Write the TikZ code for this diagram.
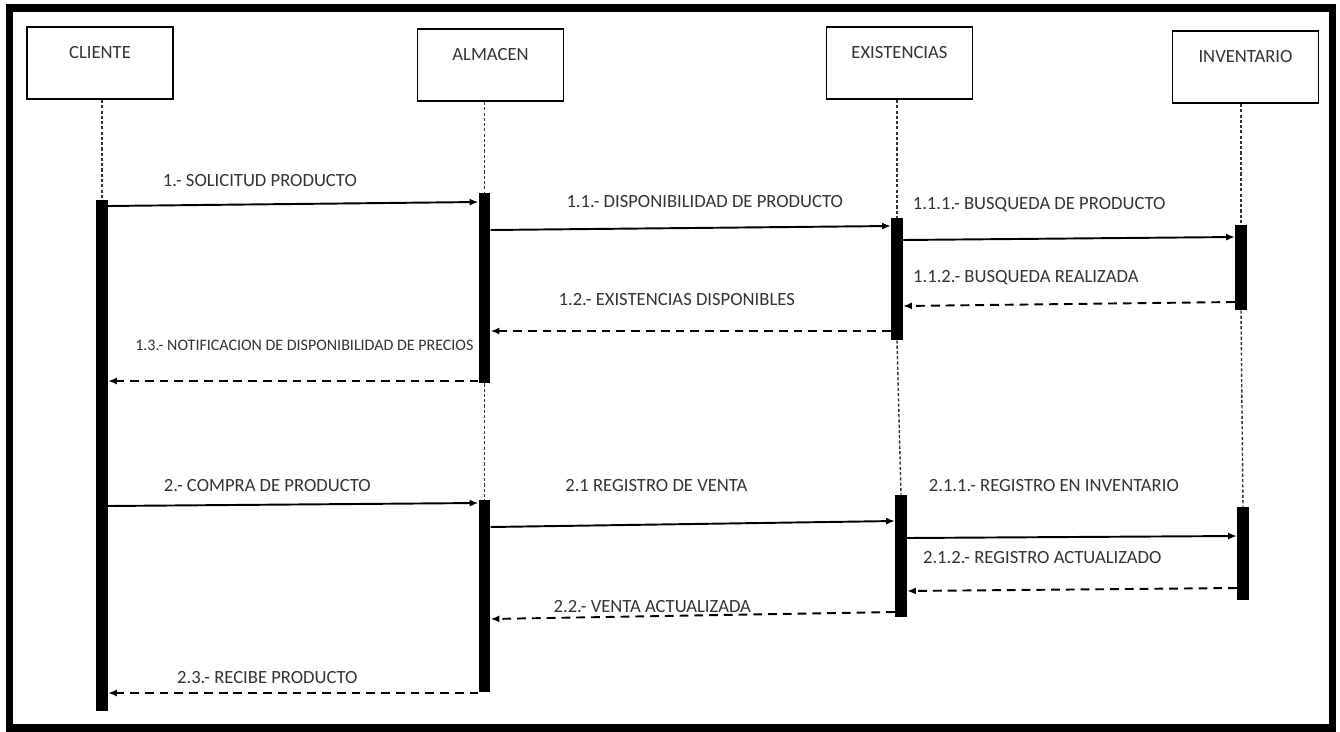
\documentclass[tikz,border=0pt]{standalone}
\usepackage{fontspec}
\setmainfont{Carlito}
\usetikzlibrary{arrows.meta,positioning}

\begin{document}
\begin{tikzpicture}[
    x=0.02cm, y=-0.02cm,
    >={Latex[length=5pt,width=4pt]},
    obj/.style={rectangle, draw=black, line width=1.1pt, fill=white,
                minimum width=2.92cm, minimum height=1.44cm, inner sep=0pt},
    objname/.style={anchor=north, inner sep=0pt, yshift=-0.4cm,
                    font=\fontsize{10.6}{12}\selectfont, text=black!80},
    act/.style={rectangle, fill=black, minimum width=0.23cm, inner sep=0pt},
    life/.style={line width=0.8pt, black!80, dash pattern=on 1.8pt off 1.2pt},
    call/.style={->, line width=1.1pt},
    ret/.style={->, line width=1.1pt, dash pattern=on 5pt off 3.4pt},
    lbl/.style={font=\fontsize{10.6}{12}\selectfont, text=black!80,
                inner sep=0pt, text depth=0pt},
    small/.style={lbl, font=\fontsize{9.1}{11}\selectfont}
  ]
    \useasboundingbox (0,0) rectangle (1340,731);
    \draw[line width=4.2pt] (9.5,8) rectangle (1332.5,728);

    %--- Objects ---
    \node[obj, label={[objname]north:CLIENTE}]     (cli) at (100,63)    {};
    \node[obj, label={[objname]north:ALMACEN}]     (alm) at (490.5,65)  {};
    \node[obj, label={[objname]north:EXISTENCIAS}] (exi) at (899.5,63)  {};
    \node[obj, label={[objname]north:INVENTARIO}]  (inv) at (1245.5,67) {};

    %--- Activation bars ---
    \node[act, minimum height=10.22cm] (bc)  at (102,455.5) {};
    \node[act, minimum height=3.80cm]  (ba1) at (484.5,288) {};
    \node[act, minimum height=3.84cm]  (ba2) at (484.5,596) {};
    \node[act, minimum height=2.44cm]  (be1) at (897,279)   {};
    \node[act, minimum height=2.44cm]  (be2) at (901,556)   {};
    \node[act, minimum height=1.70cm]  (bi1) at (1241,267.5) {};
    \node[act, minimum height=1.86cm]  (bi2) at (1243,553.5) {};

    %--- Lifelines ---
    \draw[life] (bc.north |- cli.south) -- (bc.north);
    \draw[life] (ba1.north |- alm.south) -- (ba1.north);
    \draw[life] (ba1.south) -- (ba2.north);
    \draw[life] (be1.north |- exi.south) -- (be1.north);
    \draw[life] (be1.south) -- (be2.north);
    \draw[life] (bi1.north |- inv.south) -- (bi1.north);
    \draw[life] (bi1.south) -- (bi2.north);

    %--- First sequence: product request ---
    \draw[call] (bc.east |- 0,206) --
      node[lbl, pos=.41, yshift=.48cm]{1.- SOLICITUD PRODUCTO} (ba1.west |- 0,202);
    \draw[call] (ba1.east |- 0,230) --
      node[lbl, pos=.535, yshift=.52cm]{1.1.- DISPONIBILIDAD DE PRODUCTO} (be1.west |- 0,226);
    \draw[call] (be1.east |- 0,240) --
      node[lbl, pos=.41, yshift=.71cm]{1.1.1.- BUSQUEDA DE PRODUCTO} (bi1.west |- 0,237);
    \draw[ret] (bi1.west |- 0,302) --
      node[lbl, pos=.63, yshift=.56cm]{1.1.2.- BUSQUEDA REALIZADA} (be1.east |- 0,306);
    \draw[ret] (be1.west |- 0,331) --
      node[lbl, pos=.535, yshift=.64cm]{1.2.- EXISTENCIAS DISPONIBLES} (ba1.east |- 0,331);
    \draw[ret] (ba1.west |- 0,381) --
      node[small, pos=.47, yshift=.72cm]{1.3.- NOTIFICACION DE DISPONIBILIDAD DE PRECIOS} (bc.east |- 0,381);

    %--- Second sequence: purchase ---
    \draw[call] (bc.east |- 0,506) --
      node[lbl, pos=.43, yshift=.39cm]{2.- COMPRA DE PRODUCTO} (ba2.west |- 0,503);
    \draw[call] (ba2.east |- 0,527) --
      node[lbl, pos=.41, yshift=.78cm]{2.1 REGISTRO DE VENTA} (be2.west |- 0,521);
    \draw[call] (be2.east |- 0,538) --
      node[lbl, pos=.445, yshift=1.04cm]{2.1.1.- REGISTRO EN INVENTARIO} (bi2.west |- 0,536);
    \draw[ret] (bi2.west |- 0,588) --
      node[lbl, pos=.59, yshift=.65cm]{2.1.2.- REGISTRO ACTUALIZADO} (be2.east |- 0,591);
    \draw[ret] (be2.west |- 0,612) --
      node[lbl, pos=.60, yshift=.19cm]{2.2.- VENTA ACTUALIZADA} (ba2.east |- 0,619);
    \draw[ret] (ba2.west |- 0,693) --
      node[lbl, pos=.57, yshift=.32cm]{2.3.- RECIBE PRODUCTO} (bc.east |- 0,693);
  \end{tikzpicture}
\end{document}
